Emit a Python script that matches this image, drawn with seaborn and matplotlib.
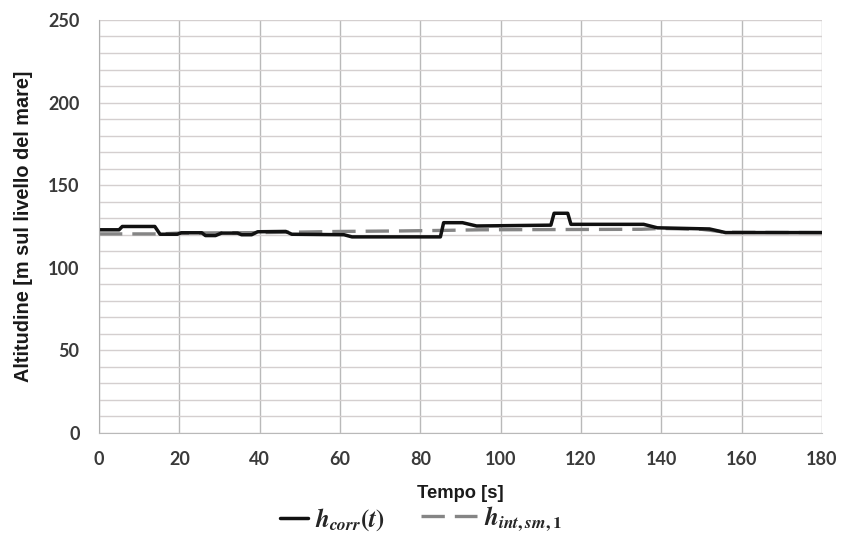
import numpy as np
import pandas as pd
import matplotlib
matplotlib.use('Agg')
import matplotlib.pyplot as plt
from matplotlib.ticker import MultipleLocator
import seaborn as sns

# Dati
t_corr = [0, 5, 5.8, 13.9, 15.2, 19.5, 20.5, 25.6, 26.5, 29, 30.5, 34.5, 35.5, 38, 39.5,
          46.5, 48, 61, 63, 85, 85.8, 90.5, 94, 112.5, 113.3, 116.7, 117.5, 135.6, 139,
          152, 156, 180]
h_corr = [123, 123, 125, 125, 120.3, 120.3, 121.2, 121.2, 119.5, 119.5, 121, 121, 120, 120, 121.8,
          122, 120.3, 120, 118.7, 118.7, 127.3, 127.3, 125.3, 125.8, 133, 133, 126.3, 126.3, 124.2,
          123.5, 121.3, 121.3]

t_sm = [0, 15, 20, 40, 50, 60, 75, 85, 95, 135, 140, 150, 156, 180]
h_sm = [120.5, 120.5, 121, 121.3, 121.6, 122, 122.3, 122.6, 123, 123.3, 123.8, 123.3, 121.5, 121.3]

x_ticks = list(range(0, 181, 20))
y_ticks = list(range(0, 251, 50))

sns.set_style('white')
plt.rcParams['font.family'] = ['Liberation Sans', 'DejaVu Sans']
plt.rcParams['mathtext.fontset'] = 'custom'
plt.rcParams['mathtext.it'] = 'STIXGeneral:italic:bold'
plt.rcParams['mathtext.rm'] = 'STIXGeneral:bold'
plt.rcParams['mathtext.bf'] = 'STIXGeneral:bold'

fig = plt.figure(figsize=(8.41, 5.37), dpi=100)
ax = fig.add_axes([0.1177, 0.1937, 0.8597, 0.7691])

ax.yaxis.set_minor_locator(MultipleLocator(10))
ax.grid(True, which='both', axis='y', color='#d4cfcf', lw=1)
ax.grid(True, which='major', axis='x', color='#b9b9b9', lw=1)
ax.set_axisbelow(True)

df_corr = pd.DataFrame({'t': t_corr, 'h': h_corr})
df_sm = pd.DataFrame({'t': t_sm, 'h': h_sm})
sns.lineplot(data=df_sm, x='t', y='h', ax=ax, color='#858585', lw=2.4,
             ls=(0, (7, 3)), label=r'$h_{int,sm,1}$')
sns.lineplot(data=df_corr, x='t', y='h', ax=ax, color='#111111', lw=2.5,
             label=r'$h_{corr}(t)$')

ax.set_xlim(0, 180)
ax.set_ylim(0, 250)
ax.set_xticks(x_ticks)
ax.set_yticks(y_ticks)
ax.tick_params(axis='y', which='major', length=6, color='#b0b0b0', direction='out', pad=8)
ax.tick_params(axis='y', which='minor', length=0)
ax.tick_params(axis='x', which='major', length=7, color='#b9b9b9', direction='out', pad=6)
for lab in ax.get_xticklabels() + ax.get_yticklabels():
    lab.set_fontfamily(['Lato', 'DejaVu Sans'])
    lab.set_fontweight('bold')
    lab.set_fontsize(13)
    lab.set_color('#3a3a3a')

for s in ['top', 'right']:
    ax.spines[s].set_visible(False)
ax.spines['left'].set_color('#b0b0b0')
ax.spines['bottom'].set_color('#b9b9b9')

ax.set_xlabel('Tempo [s]', fontsize=13.2, fontweight='bold', color='#1a1a1a', labelpad=12)
ax.set_ylabel('Altitudine [m sul livello del mare]', fontsize=14.3, fontweight='bold',
              color='#1a1a1a', labelpad=11)

handles, labels = ax.get_legend_handles_labels()
ax.get_legend().remove()
# due legende separate: la linea nera ha un segmento più corto
fig.legend([handles[1]], [labels[1]], loc='center left', bbox_to_anchor=(280 / 841, 0.033),
           frameon=False, fontsize=18, handlelength=1.1, handletextpad=0.3, borderpad=0,
           borderaxespad=0)
fig.legend([handles[0]], [labels[0]], loc='center left', bbox_to_anchor=(421 / 841, 0.033),
           frameon=False, fontsize=18, handlelength=2.24, handletextpad=0.3, borderpad=0,
           borderaxespad=0)

plt.savefig('out.png', dpi=100)
